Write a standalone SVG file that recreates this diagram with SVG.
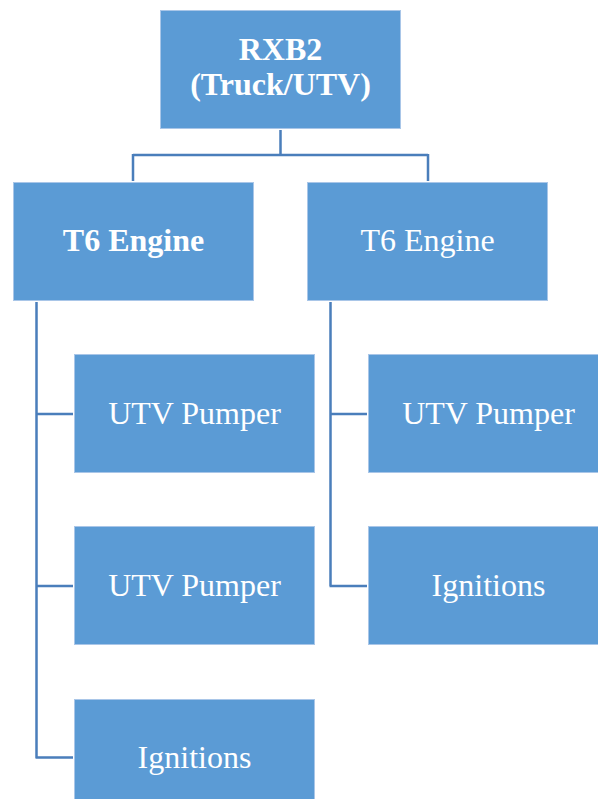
<svg xmlns="http://www.w3.org/2000/svg" width="598" height="799" viewBox="0 0 598 799">
<style>
.box{fill:#5B9BD5;stroke:#A9C6E8;stroke-width:1}
.t{font-family:"Liberation Serif","Times New Roman",serif;font-size:32px;fill:#FFFFFF;text-anchor:middle}
.b{font-weight:bold}
.c{fill:none;stroke:#4A7EBB;stroke-width:2.5}
</style>
<rect width="598" height="799" fill="#FFFFFF"/>
<g id="connectors">
<path class="c" d="M280.5,130 V155 M133,155 H428 M133,154 V181 M428,154 V181"/>
<path class="c" d="M36.5,302 V758 M35.5,414 H73 M35.5,586 H73 M35.5,757.5 H73"/>
<path class="c" d="M330.5,302 V586 M329.5,414 H367 M329.5,586 H367"/>
</g>
<g id="root"><rect class="box" x="160.5" y="10.5" width="240" height="118"/><text class="t b" x="280.5" y="60">RXB2</text><text class="t b" x="280.5" y="95">(Truck/UTV)</text></g>
<g id="t6-left"><rect class="box" x="13.5" y="182.5" width="240" height="118"/><text class="t b" x="133.5" y="251">T6 Engine</text></g>
<g id="t6-right"><rect class="box" x="307.5" y="182.5" width="240" height="118"/><text class="t" x="427.5" y="251">T6 Engine</text></g>
<g id="l-utv1"><rect class="box" x="74.5" y="354.5" width="240" height="118"/><text class="t" x="194.5" y="424">UTV Pumper</text></g>
<g id="l-utv2"><rect class="box" x="74.5" y="526.5" width="240" height="118"/><text class="t" x="194.5" y="596">UTV Pumper</text></g>
<g id="l-ign"><rect class="box" x="74.5" y="699.5" width="240" height="118"/><text class="t" x="194.5" y="768">Ignitions</text></g>
<g id="r-utv"><rect class="box" x="368.5" y="354.5" width="240" height="118"/><text class="t" x="488.5" y="424">UTV Pumper</text></g>
<g id="r-ign"><rect class="box" x="368.5" y="526.5" width="240" height="118"/><text class="t" x="488.5" y="596">Ignitions</text></g>
</svg>
